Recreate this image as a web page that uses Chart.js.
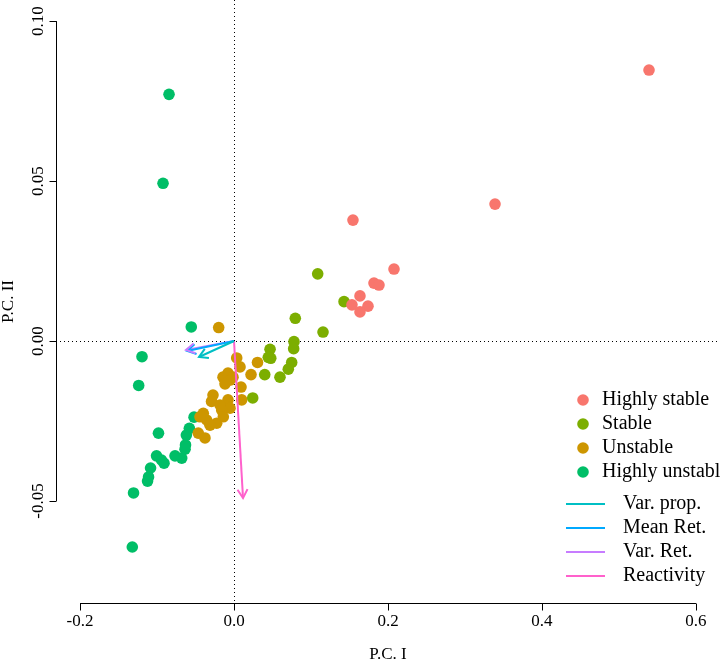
<!DOCTYPE html>
<html>
<head>
<meta charset="utf-8">
<script src="https://cdn.jsdelivr.net/npm/chart.js@4.4.1/dist/chart.umd.min.js"></script>
<style>
  html, body { margin: 0; padding: 0; background: #fff; }
</style>
</head>
<body>
<canvas id="chart" width="720" height="660"></canvas>
<script>
// groups of the scatter
const groups = ['Highly stable', 'Stable', 'Unstable', 'Highly unstable'];
const groupColors = ['#F8766D', '#7CAE00', '#CD9600', '#00BE67'];

const highlyStableX = [0.539, 0.339, 0.1545, 0.2078, 0.1818, 0.1883, 0.1636, 0.1532, 0.1740, 0.1636];
const highlyStableY = [0.0847, 0.0428, 0.0378, 0.0225, 0.0181, 0.0175, 0.0141, 0.0113, 0.0109, 0.0091];

const stableX = [0.1087, 0.1429, 0.0796, 0.1156, 0.0779, 0.0775, 0.0468, 0.0477, 0.0445, 0.0749, 0.0705, 0.0399, 0.0597, 0.0243];
const stableY = [0.0210, 0.0123, 0.0071, 0.0028, -0.0002, -0.0024, -0.0026, -0.0054, -0.0051, -0.0067, -0.0088, -0.0105, -0.0113, -0.0178];

const unstableX = [-0.0199, 0.0035, 0.0078, 0.0305, 0.0221, -0.0143, -0.0078, -0.0052, -0.0117, -0.0013, -0.0273, -0.0292, 0.0100,
  -0.0078, -0.0095, -0.0052, -0.0182, -0.0160, -0.0139, -0.0225, -0.0399, -0.0355, -0.0442, -0.0464, -0.0377, -0.0312, 0.0091];
const unstableY = [0.0042, -0.0053, -0.0081, -0.0067, -0.0105, -0.0113, -0.0100, -0.0122, -0.0134, -0.0113, -0.0169, -0.0189, -0.0184,
  -0.0184, -0.0205, -0.0210, -0.0200, -0.0216, -0.0237, -0.0257, -0.0226, -0.0247, -0.0237, -0.0288, -0.0303, -0.0263, -0.0144];

const highlyUnstableX = [-0.0844, -0.0922, -0.0555, -0.1195, -0.1238, -0.0981, -0.0519, -0.0580, -0.0619, -0.0630, -0.0636,
  -0.0766, -0.0679, -0.1006, -0.0942, -0.0909, -0.1084, -0.1110, -0.1123, -0.1305, -0.1321];
const highlyUnstableY = [0.0771, 0.0493, 0.0044, -0.0049, -0.0139, -0.0288, -0.0238, -0.0273, -0.0294, -0.0325, -0.0338,
  -0.0359, -0.0366, -0.0359, -0.0372, -0.0382, -0.0397, -0.0425, -0.0438, -0.0475, -0.0644];

// loading arrows
const variables = ['Var. prop.', 'Mean Ret.', 'Var. Ret.', 'Reactivity'];
const variableColors = ['#00BFC4', '#00A9FF', '#C77CFF', '#FF61CC'];
const loadingX = [-0.0455, -0.0610, -0.0623, 0.0117];
const loadingY = [-0.0050, -0.0031, -0.0028, -0.0491];

// axes
const xTicks = [-0.2, 0, 0.2, 0.4, 0.6];
const xTickLabels = ['-0.2', '0.0', '0.2', '0.4', '0.6'];
const yTicks = [-0.05, 0, 0.05, 0.1];
const yTickLabels = ['-0.05', '0.00', '0.05', '0.10'];
const xTitle = 'P.C. I';
const yTitle = 'P.C. II';

const serif = '"Liberation Serif", "DejaVu Serif", serif';

const pointSets = [
    [highlyStableX, highlyStableY],
    [stableX, stableY],
    [unstableX, unstableY],
    [highlyUnstableX, highlyUnstableY],
];

const datasets = [];

variables.forEach((name, i) => {
    datasets.push({
        type: 'line',
        label: name,
        data: [{ x: 0, y: 0 }, { x: loadingX[i], y: loadingY[i] }],
        borderColor: variableColors[i],
        borderWidth: 2,
        pointRadius: 0,
        fill: false,
        order: 0,
        isArrow: true,
    });
});

groups.forEach((name, i) => {
    const [xs, ys] = pointSets[i];
    datasets.push({
        type: 'scatter',
        label: name,
        data: xs.map((v, j) => ({ x: v, y: ys[j] })),
        backgroundColor: groupColors[i],
        borderWidth: 0,
        pointRadius: 5.8,
        order: 1 + i,
    });
});

const rPlot = {
    id: 'rPlot',
    beforeDatasetsDraw(chart) {
        const { ctx, chartArea: a, scales: { x, y } } = chart;
        const x0 = Math.round(x.getPixelForValue(0)) + 0.5;
        const y0 = Math.round(y.getPixelForValue(0)) + 0.5;
        ctx.save();
        ctx.strokeStyle = '#000';
        ctx.lineWidth = 1;
        ctx.setLineDash([1, 3]);
        ctx.beginPath();
        ctx.moveTo(a.left, y0);
        ctx.lineTo(a.right, y0);
        ctx.moveTo(x0, a.top);
        ctx.lineTo(x0, a.bottom);
        ctx.stroke();
        ctx.restore();
    },
    afterDatasetsDraw(chart) {
        const ctx = chart.ctx;
        ctx.save();
        chart.data.datasets.forEach((ds, i) => {
            if (!ds.isArrow) {
                return;
            }
            const pts = chart.getDatasetMeta(i).data;
            const p0 = pts[0], p1 = pts[1];
            const ang = Math.atan2(p1.y - p0.y, p1.x - p0.x);
            const len = 10, spread = Math.PI / 6;
            ctx.strokeStyle = ds.borderColor;
            ctx.lineWidth = 2;
            ctx.beginPath();
            ctx.moveTo(p1.x - len * Math.cos(ang - spread), p1.y - len * Math.sin(ang - spread));
            ctx.lineTo(p1.x, p1.y);
            ctx.lineTo(p1.x - len * Math.cos(ang + spread), p1.y - len * Math.sin(ang + spread));
            ctx.stroke();
        });
        ctx.restore();
    },
    afterDraw(chart) {
        const { ctx, chartArea: a, scales: { x, y } } = chart;
        const tl = 7;
        ctx.save();
        ctx.strokeStyle = '#000';
        ctx.fillStyle = '#000';
        ctx.lineWidth = 1;

        // x axis
        const by = a.bottom + 0.5;
        ctx.beginPath();
        ctx.moveTo(x.getPixelForValue(xTicks[0]), by);
        ctx.lineTo(x.getPixelForValue(xTicks[xTicks.length - 1]), by);
        xTicks.forEach((t) => {
            const px = Math.round(x.getPixelForValue(t)) + 0.5;
            ctx.moveTo(px, by);
            ctx.lineTo(px, by + tl);
        });
        ctx.stroke();
        ctx.font = '17px ' + serif;
        ctx.textAlign = 'center';
        ctx.textBaseline = 'middle';
        xTicks.forEach((t, i) => {
            ctx.fillText(xTickLabels[i], x.getPixelForValue(t), a.bottom + 19);
        });
        ctx.fillText(xTitle, (a.left + a.right) / 2, a.bottom + 52);

        // y axis
        const lx = a.left + 0.5;
        ctx.beginPath();
        ctx.moveTo(lx, y.getPixelForValue(yTicks[0]));
        ctx.lineTo(lx, y.getPixelForValue(yTicks[yTicks.length - 1]));
        yTicks.forEach((t) => {
            const py = Math.round(y.getPixelForValue(t)) + 0.5;
            ctx.moveTo(lx, py);
            ctx.lineTo(lx - tl, py);
        });
        ctx.stroke();
        yTicks.forEach((t, i) => {
            ctx.save();
            ctx.translate(a.left - 17, y.getPixelForValue(t));
            ctx.rotate(-Math.PI / 2);
            ctx.fillText(yTickLabels[i], 0, 0);
            ctx.restore();
        });
        ctx.save();
        ctx.translate(a.left - 47, (a.top + a.bottom) / 2);
        ctx.rotate(-Math.PI / 2);
        ctx.fillText(yTitle, 0, 0);
        ctx.restore();

        // legend
        ctx.font = '20px ' + serif;
        ctx.textAlign = 'left';
        groups.forEach((name, i) => {
            const ry = 400 + i * 24;
            ctx.fillStyle = groupColors[i];
            ctx.beginPath();
            ctx.arc(583, ry, 5.8, 0, Math.PI * 2);
            ctx.fill();
            ctx.fillStyle = '#000';
            ctx.fillText(name, 602, ry);
        });
        variables.forEach((name, i) => {
            const ry = 504 + i * 24;
            ctx.strokeStyle = variableColors[i];
            ctx.lineWidth = 2;
            ctx.beginPath();
            ctx.moveTo(566, ry);
            ctx.lineTo(605, ry);
            ctx.stroke();
            ctx.fillStyle = '#000';
            ctx.fillText(name, 623, ry);
        });
        ctx.restore();
    },
};

new Chart(document.getElementById('chart').getContext('2d'), {
    data: { datasets },
    options: {
        responsive: false,
        animation: false,
        devicePixelRatio: 1,
        layout: { autoPadding: false, padding: { left: 56, right: 0, top: 0, bottom: 57 } },
        plugins: {
            legend: { display: false },
            tooltip: { enabled: false },
        },
        scales: {
            x: { type: 'linear', display: false, min: -0.2312, max: 0.6312 },
            y: { type: 'linear', display: false, min: -0.0819, max: 0.1066 },
        },
    },
    plugins: [rPlot],
});
</script>
</body>
</html>
